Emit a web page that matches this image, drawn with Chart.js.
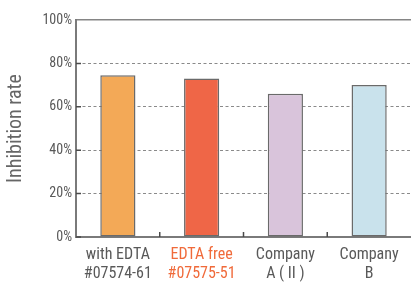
<!DOCTYPE html>
<html>
<head>
<meta charset="utf-8">
<script src="https://cdn.jsdelivr.net/npm/chart.js@4.4.1/dist/chart.umd.min.js"></script>
<style>
  html, body { margin: 0; padding: 0; background: #ffffff; }
  #wrap { width: 411px; height: 282px; position: relative; }
</style>
</head>
<body>
<div id="wrap"><canvas id="c"></canvas></div>
<script>
const categories = [
  ["with EDTA", "#07574-61"],
  ["EDTA free", "#07575-51"],
  ["Company", "A ( II )"],
  ["Company", "B"]
];
const inhibitionRate = [74.5, 73, 66, 70];
const yTicks = [0, 20, 40, 60, 80, 100];
const barColors = ["#F3A957", "#EF6647", "#D9C4DB", "#C9E2EC"];
const labelColors = ["#595959", "#F06A3A", "#595959", "#595959"];

const FONT = "'Liberation Sans Narrow', 'Roboto Condensed', 'Liberation Sans', Roboto, sans-serif";

const innerTicks = {
  id: 'innerTicks',
  afterDraw(chart) {
    const ctx = chart.ctx;
    const x = chart.scales.x, y = chart.scales.y;
    ctx.save();
    ctx.strokeStyle = '#4a4a4a';
    ctx.lineWidth = 1.5;
    ctx.beginPath();
    for (let i = 1; i < categories.length; i++) {
      const px = (x.getPixelForValue(i - 1) + x.getPixelForValue(i)) / 2;
      ctx.moveTo(px, y.bottom);
      ctx.lineTo(px, y.bottom - 5);
    }
    yTicks.forEach(v => {
      if (v === 100) return;
      const py = y.getPixelForValue(v);
      ctx.moveTo(x.left, py);
      ctx.lineTo(x.left + 5, py);
    });
    ctx.stroke();
    ctx.restore();
  }
};

new Chart(document.getElementById('c'), {
  type: 'bar',
  data: {
    labels: categories,
    datasets: [{
      data: inhibitionRate,
      backgroundColor: barColors,
      borderColor: '#6a6a6a',
      borderWidth: 1.5,
      borderSkipped: false,
      categoryPercentage: 1.0,
      barPercentage: 0.42
    }]
  },
  options: {
    responsive: true,
    maintainAspectRatio: false,
    animation: false,
    devicePixelRatio: 1,
    layout: { padding: { top: 20, right: 0, left: 0, bottom: 0 } },
    plugins: { legend: { display: false }, tooltip: { enabled: false } },
    scales: {
      x: {
        grid: { display: false, drawTicks: false },
        border: { display: true, color: '#7a7a7a', width: 2 },
        ticks: {
          color: (c) => labelColors[c.index],
          font: { family: FONT, size: 16, lineHeight: 1.22 },
          padding: 8,
          maxRotation: 0,
          autoSkip: false
        },
        afterFit(s) { s.height = 45; }
      },
      y: {
        min: 0,
        max: 100,
        afterBuildTicks(s) { s.ticks = yTicks.map(v => ({ value: v })); },
        grid: {
          drawTicks: false,
          color: (c) => c.tick && c.tick.value === 100 ? '#858585' : (c.tick && c.tick.value === 0 ? 'rgba(0,0,0,0)' : '#8a8a8a'),
          lineWidth: (c) => c.tick && c.tick.value === 100 ? 1.5 : 1
        },
        border: {
          display: true, color: '#7a7a7a', width: 2,
          dash: (c) => c.tick && (c.tick.value === 100 || c.tick.value === 0) ? [] : [3, 2.5]
        },
        ticks: {
          color: '#595959',
          font: { family: FONT, size: 14 },
          padding: 4,
          callback: (v) => v + '%'
        },
        title: {
          display: true,
          text: 'Inhibition rate',
          color: '#666666',
          font: { family: FONT, size: 20, lineHeight: 1.2 },
          padding: { top: 4, bottom: 0 }
        },
        afterFit(s) { s.width = 76; }
      }
    }
  },
  plugins: [innerTicks]
});
</script>
</body>
</html>
